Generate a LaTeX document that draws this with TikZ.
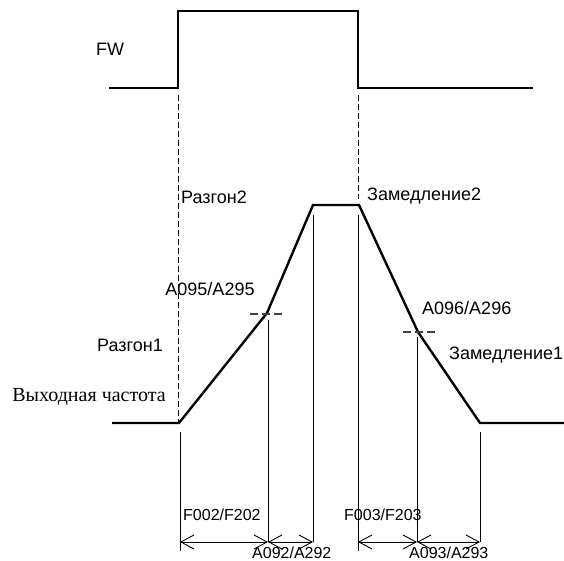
\documentclass[tikz,border=0pt]{standalone}
\usepackage{fontspec}
\setmainfont{Liberation Sans}
\newfontfamily\serifru{Liberation Serif}
\usetikzlibrary{arrows.meta}
\tikzset{
  wave/.style={line width=2.4pt, line join=miter},
  guide/.style={line width=0.9pt, dash pattern=on 6pt off 3pt},
  tick/.style={line width=1.2pt, draw=black!75, dash pattern=on 8pt off 4pt},
  ref/.style={line width=0.9pt},
  dim/.style={line width=0.9pt, {Straight Barb[length=13pt,width=14pt,line width=0.9pt]}-{Straight Barb[length=13pt,width=14pt,line width=0.9pt]}},
  lbl/.style={font=\fontsize{18}{20}\selectfont, inner sep=0pt},
  lbs/.style={font=\fontsize{16}{18}\selectfont, inner sep=0pt},
}
\begin{document}
\begin{tikzpicture}[x=1pt,y=-1pt]
\useasboundingbox (0,0) rectangle (564,561);
% top FW pulse
\coordinate (t0) at (109,88);
\coordinate (t1) at (178,88);
\coordinate (t2) at (178,11);
\coordinate (t3) at (358,11);
\coordinate (t4) at (358,88);
\coordinate (t5) at (533,88);
\draw[wave] (t0) -- (t1) -- (t2) -- (t3) -- (t4) -- (t5);
% output frequency curve
\coordinate (b0) at (112,423);
\coordinate (b1) at (179,423);
\coordinate (b2) at (267,313);
\coordinate (b3) at (313,205);
\coordinate (b4) at (359,205);
\coordinate (b5) at (418,332);
\coordinate (b6) at (480,423);
\coordinate (b7) at (566,423);
\draw[wave] (b0) -- (b1) -- (b2) -- (b3) -- (b4) -- (b5) -- (b6) -- (b7);
% dashed guides
\coordinate (g1a) at (178,95);  \coordinate (g1b) at (178,423);
\coordinate (g2a) at (358,95);  \coordinate (g2b) at (358,199);
\draw[guide] (g1a) -- (g1b);
\draw[guide] (g2a) -- (g2b);
\coordinate (h1a) at (250,314); \coordinate (h1b) at (285,314);
\coordinate (h2a) at (403,332); \coordinate (h2b) at (436,332);
\draw[tick] (h1a) -- (h1b);
\draw[tick] (h2a) -- (h2b);
% solid reference verticals
\coordinate (v1a) at (180,432); \coordinate (v1b) at (180,551);
\coordinate (v2a) at (268,320); \coordinate (v2b) at (268,542);
\coordinate (v3a) at (313,215); \coordinate (v3b) at (313,542);
\coordinate (v4a) at (358,215); \coordinate (v4b) at (358,551);
\coordinate (v5a) at (417,337); \coordinate (v5b) at (417,542);
\coordinate (v6a) at (480,432); \coordinate (v6b) at (480,542);
\foreach \v in {1,...,6} \draw[ref] (v\v a) -- (v\v b);
% dimension arrows
\coordinate (d1) at (180,542);
\coordinate (d2) at (268,542);
\coordinate (d3) at (313,542);
\coordinate (d4) at (358,542);
\coordinate (d5) at (417,542);
\coordinate (d6) at (480,542);
\draw[dim] (d1) -- (d2);
\draw[dim] (d2) -- (d3);
\draw[dim] (d4) -- (d5);
\draw[dim] (d5) -- (d6);
% labels
\node[lbl] (fw) at (110,49) {FW};
\node[lbl, anchor=west] (r2) at (181,197) {Разгон2};
\node[lbl] (a95) at (210,289) {A095/A295};
\node[lbl] (r1) at (130,345) {Разгон1};
\node[font=\serifru\fontsize{20}{22}\selectfont, inner sep=0pt] (out) at (89,397) {Выходная частота};
\node[lbl, anchor=west] (z2) at (367,196) {Замедление2};
\node[lbl, anchor=west] (a96) at (422,308) {A096/A296};
\node[lbl, anchor=west] (z1) at (449,355) {Замедление1};
\node[lbs, anchor=west] (f2) at (183,515) {F002/F202};
\node[lbs, anchor=west] (a92) at (252,553) {A092/A292};
\node[lbs, anchor=west] (f3) at (344,515) {F003/F203};
\node[lbs, anchor=west] (a93) at (409,553) {A093/A293};
\end{tikzpicture}
\end{document}
